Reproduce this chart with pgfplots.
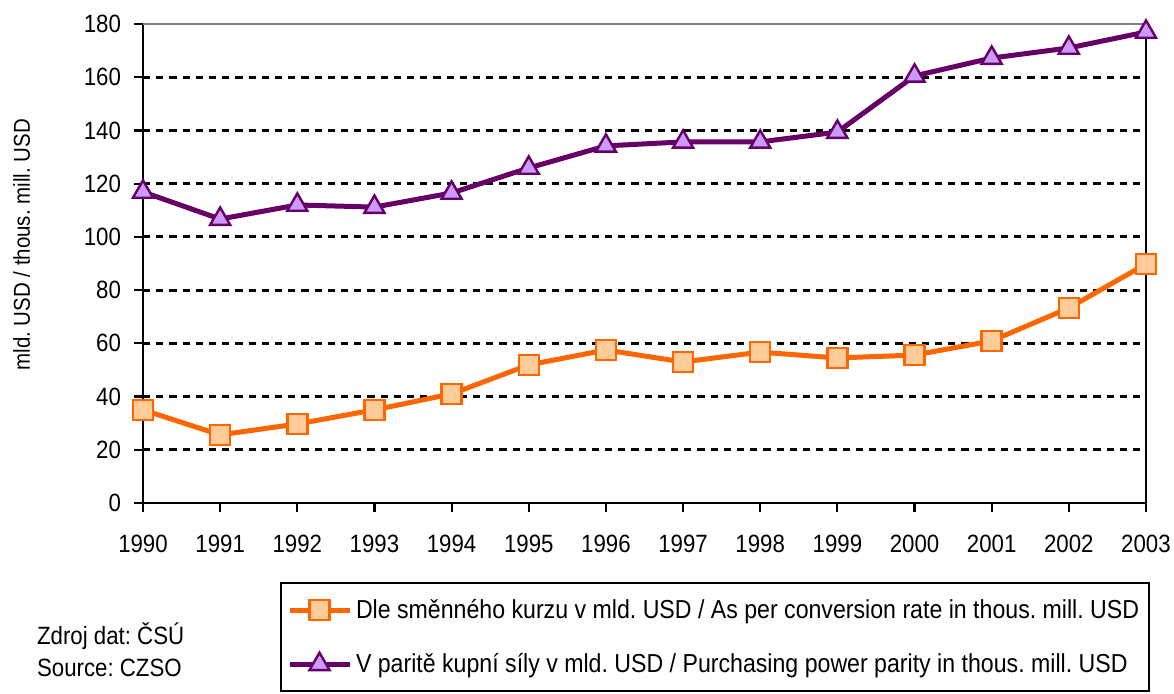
\documentclass[border=0pt]{standalone}
\usepackage{fontspec}
\setmainfont{Liberation Sans}[FakeStretch=0.89]
\usepackage{pgfplots}
\pgfplotsset{compat=1.18}
\definecolor{orng}{HTML}{FF6600}
\definecolor{orngfill}{HTML}{FFCC99}
\definecolor{purp}{HTML}{660066}
\definecolor{purpfill}{HTML}{CC99FF}
\frenchspacing
\begin{document}
\begin{tikzpicture}
\useasboundingbox (0,0) rectangle (587pt,346.5pt);
\begin{axis}[
  at={(71.5pt,95pt)}, anchor=south west,
  scale only axis, width=501.5pt, height=239.5pt,
  xmin=1990, xmax=2003, ymin=0, ymax=180,
  xtick={1990,1991,...,2003}, ytick={0,20,...,180},
  axis x line*=bottom, axis y line*=left,
  axis line style={black, line width=1.2pt, -},
  tick align=outside, major tick length=4.5pt,
  major tick style={black, line width=1.1pt},
  ymajorgrids, grid style={black, line width=1.4pt, dash pattern=on 3.6pt off 3pt},
  /pgf/number format/1000 sep={},
  /pgf/number format/assume math mode=true,
  tick label style={font=\fontsize{12.5}{14}\selectfont},
  xticklabel style={yshift=-8pt},
  yticklabel style={xshift=-3pt},
  ylabel={mld. USD / thous. mill. USD},
  ylabel style={font=\fontsize{11.5}{13}\selectfont, at={(rel axis cs:-0.121,0.539)}, anchor=center, rotate=0},
  clip=false,
  legend style={at={(0.1366,-0.165)}, anchor=north west, draw=black, line width=1pt,
    font=\fontsize{13}{15}\selectfont, row sep=12pt, inner xsep=3pt, inner ysep=6pt},
  legend cell align=left,
  legend image code/.code={\draw[mark repeat=2,mark phase=2] plot coordinates {(0pt,0pt)(15pt,0pt)(30pt,0pt)};},
]
\draw[gray, line width=0.6pt] (rel axis cs:0,1) -- (rel axis cs:1,1);
\draw[black, line width=1.2pt] (rel axis cs:1,0) -- (rel axis cs:1,1);
\addplot[orng, line width=2.5pt, mark=square*, mark size=5pt,
  mark options={fill=orngfill, draw=orng, line width=1.2pt}] coordinates {
(1990,35.0) (1991,25.6) (1992,29.7) (1993,35.0) (1994,41.0) (1995,51.9) (1996,57.5)
(1997,53.0) (1998,56.7) (1999,54.5) (2000,55.6) (2001,60.9) (2002,73.3) (2003,89.8)};
\addlegendentry{Dle směnného kurzu v mld. USD / As per conversion rate in thous. mill. USD}
\addplot[purp, line width=2.5pt, mark=triangle*, mark size=5.8pt,
  mark options={fill=purpfill, draw=purp, line width=1.2pt}] coordinates {
(1990,116.9) (1991,106.7) (1992,112.0) (1993,111.2) (1994,116.5) (1995,125.9) (1996,134.2)
(1997,135.7) (1998,135.7) (1999,139.4) (2000,160.5) (2001,167.2) (2002,171.0) (2003,177.0)};
\addlegendentry{V paritě kupní síly v mld. USD / Purchasing power parity in thous. mill. USD}
\end{axis}
\node[anchor=west, font=\fontsize{12.5}{14}\selectfont] at (15pt,28.5pt) {Zdroj dat: ČSÚ};
\node[anchor=west, font=\fontsize{12.5}{14}\selectfont] at (15pt,12.5pt) {Source: CZSO};
\end{tikzpicture}
\end{document}
